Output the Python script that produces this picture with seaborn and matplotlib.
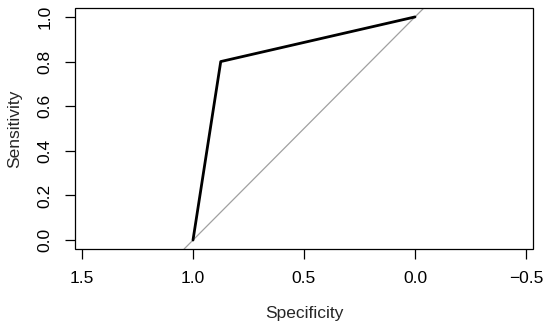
import matplotlib
matplotlib.use("Agg")
import matplotlib.pyplot as plt
import seaborn as sns
import pandas as pd

# ROC data
specificity = [1.0, 0.875, 0.0]
sensitivity = [0.0, 0.8, 1.0]
x_ticks = [1.5, 1.0, 0.5, 0.0, -0.5]
y_ticks = [0.0, 0.2, 0.4, 0.6, 0.8, 1.0]

sns.set_style("white")
plt.rcParams['font.family'] = ['Liberation Sans', 'DejaVu Sans']

df = pd.DataFrame({"Specificity": specificity, "Sensitivity": sensitivity})

fig = plt.figure(figsize=(5.5, 3.29), dpi=100)
ax = fig.add_axes([75/550, 1-249/329, (533-75)/550, (249-8)/329])

ax.axline((1, 0), (0, 1), color="#a0a0a0", lw=0.9, zorder=1)
sns.lineplot(data=df, x="Specificity", y="Sensitivity", sort=False,
             color="black", lw=2.0, ax=ax, zorder=2)

ax.set_xlim(1.5315, -0.5315)
ax.set_ylim(-0.04, 1.04)
ax.set_xticks(x_ticks)
ax.set_xticklabels(["1.5", "1.0", "0.5", "0.0", "\u22120.5"])
ax.set_yticks(y_ticks)
ax.set_yticklabels([f"{v:.1f}" for v in y_ticks], rotation=90, va="center")

for s in ax.spines.values():
    s.set_visible(False)
# R-style box
ax.add_patch(plt.Rectangle((0, 0), 1, 1, transform=ax.transAxes, fill=False,
                           edgecolor="black", lw=0.9, clip_on=False, zorder=5))

ax.tick_params(axis="both", direction="out", length=7, width=0.9,
               colors="black", labelsize=12.5, bottom=True, left=True)
ax.tick_params(axis="x", pad=9)
ax.tick_params(axis="y", pad=9)

ax.set_xlabel("Specificity", fontsize=12.5, labelpad=14)
ax.set_ylabel("Sensitivity", fontsize=12.5, labelpad=11)

fig.savefig("out.png", dpi=100)
